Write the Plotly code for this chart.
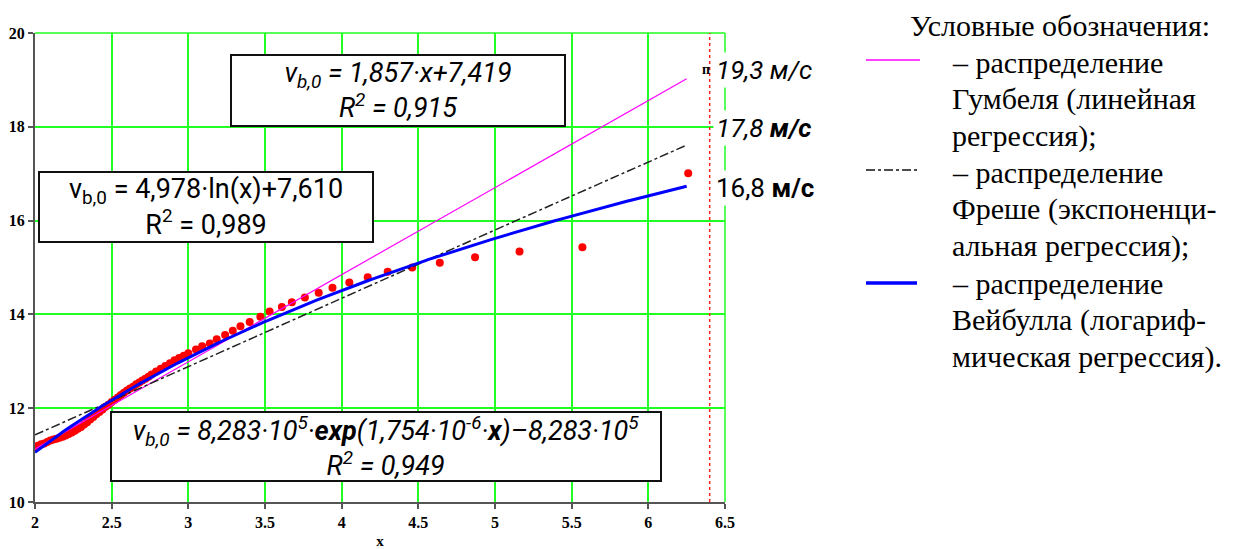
import numpy as np
import plotly.graph_objects as go

# ---------------- data ----------------
obs_x = [2.00, 2.02, 2.04, 2.06, 2.08, 2.10, 2.12, 2.14, 2.16, 2.18, 2.20, 2.22, 2.24, 2.26,
         2.28, 2.30, 2.32, 2.34, 2.36, 2.38, 2.40, 2.42, 2.44, 2.46, 2.48, 2.50, 2.52, 2.54,
         2.56, 2.58, 2.60, 2.62, 2.64, 2.66, 2.68, 2.70, 2.72, 2.74, 2.76, 2.79, 2.82, 2.85,
         2.88, 2.91, 2.94, 2.97, 3.00, 3.05, 3.09, 3.14, 3.185, 3.24, 3.29, 3.34, 3.40, 3.47,
         3.53, 3.61, 3.675, 3.76, 3.85, 3.94, 4.05, 4.17, 4.30, 4.46, 4.64, 4.87, 5.16, 5.57, 6.26]
obs_y = [11.18, 11.20, 11.23, 11.25, 11.28, 11.31, 11.33, 11.35, 11.37, 11.39, 11.42, 11.45,
         11.48, 11.52, 11.56, 11.60, 11.65, 11.70, 11.76, 11.81, 11.87, 11.92, 11.97, 12.03,
         12.08, 12.13, 12.18, 12.23, 12.28, 12.33, 12.38, 12.42, 12.46, 12.51, 12.55, 12.59,
         12.63, 12.67, 12.72, 12.78, 12.84, 12.90, 12.96, 13.02, 13.07, 13.12, 13.17, 13.25,
         13.32, 13.38, 13.47, 13.56, 13.65, 13.75, 13.84, 13.95, 14.06, 14.16, 14.26, 14.36,
         14.46, 14.57, 14.68, 14.79, 14.91, 15.00, 15.10, 15.22, 15.34, 15.43, 17.01]

# Gumbel (linear regression): v = a*x + b
gumbel_a, gumbel_b = 1.857, 7.419
# Weibull (logarithmic regression): v = a*ln(x) + b
weibull_a, weibull_b = 4.978, 7.610
# Frechet curve
frechet_x = [2.0, 3.0, 4.0, 5.0, 6.25]
frechet_y = [11.43, 12.89, 14.34, 15.80, 17.61]

fit_x_min, fit_x_max = 2.0, 6.25
limit_x = 6.40

x_ticks = [2, 2.5, 3, 3.5, 4, 4.5, 5, 5.5, 6, 6.5]
y_ticks = [10, 12, 14, 16, 18, 20]

end_labels = ["19,3 <i>м/с</i>", "17,8 <b>м/с</b>", "16,8 <b>м/с</b>"]

legend_title = "Условные обозначения:"
leg_lines = ["– распределение", "Гумбеля (линейная", "регрессия);",
             "– распределение", "Фреше (экспоненци-", "альная регрессия);",
             "– распределение", "Вейбулла (логариф-", "мическая регрессия)."]

# ---------------- figure ----------------
xs = np.linspace(fit_x_min, fit_x_max, 200)

fig = go.Figure()
fig.add_trace(go.Scatter(x=obs_x, y=obs_y, mode="markers",
                         marker=dict(color="#ff0000", size=8), showlegend=False))
fig.add_trace(go.Scatter(x=xs, y=gumbel_a * xs + gumbel_b, mode="lines",
                         line=dict(color="#ff00ff", width=1.2), showlegend=False))
fig.add_trace(go.Scatter(x=frechet_x, y=frechet_y, mode="lines",
                         line=dict(color="#222222", width=1.5, dash="dashdot"), showlegend=False))
fig.add_trace(go.Scatter(x=xs, y=weibull_a * np.log(xs) + weibull_b, mode="lines",
                         line=dict(color="#0000ff", width=3), showlegend=False))

# the page body has an 8px margin: screen px = figure px + 8
OFF = 8
W_FIG, H_FIG = 1239 - OFF, 549 - OFF
# plot area in screen pixels
L, R, T, B = 35, 725, 33, 502


def px(xp):
    return (xp - L) / (R - L)


def py(yp):
    return (B - yp) / (B - T)


SERIF = "Times New Roman, Liberation Serif, DejaVu Serif, serif"
tickfont = dict(family=SERIF, size=16, color="black", weight="bold")
fig.update_layout(
    width=W_FIG, height=H_FIG,
    margin=dict(l=L - OFF, r=W_FIG - (R - OFF), t=T - OFF, b=H_FIG - (B - OFF), autoexpand=False),
    paper_bgcolor="white", plot_bgcolor="white",
    xaxis=dict(range=[2, 6.5], tickvals=x_ticks, ticktext=[f"{v:g}" for v in x_ticks],
               automargin=False,
               showgrid=True, gridcolor="#22ff22", gridwidth=1.5, zeroline=False,
               showline=True, linecolor="#555555", linewidth=2, ticks="outside",
               ticklen=5, tickcolor="#555555", tickwidth=2, tickfont=tickfont,
               title=dict(text="x", font=dict(family=SERIF, size=15, color="black", weight="bold"),
                          standoff=6)),
    yaxis=dict(range=[10, 20], tickvals=y_ticks, ticktext=[f"{v}" for v in y_ticks],
               automargin=False,
               showgrid=True, gridcolor="#22ff22", gridwidth=1.5, zeroline=False,
               showline=True, linecolor="#555555", linewidth=2, ticks="outside",
               ticklen=5, tickcolor="#555555", tickwidth=2, tickfont=tickfont),
)

# edge grid lines (top and right)
fig.add_shape(type="line", xref="paper", yref="paper", x0=0, x1=1, y0=1, y1=1,
              line=dict(color="#22ff22", width=1.5), layer="below")
fig.add_shape(type="line", xref="paper", yref="paper", x0=1, x1=1, y0=0, y1=1,
              line=dict(color="#22ff22", width=1.5), layer="below")

# red limit line
fig.add_shape(type="line", xref="x", yref="paper", x0=limit_x, x1=limit_x, y0=0, y1=1,
              line=dict(color="#ff2020", width=1.5, dash="3px,3px"))

boxfont = dict(family="Roboto", size=27, color="black")


def box(text, left, top, w, h, italic=True):
    t = f"<i>{text}</i>" if italic else text
    fig.add_annotation(xref="paper", yref="paper", x=px(left), y=py(top),
                       xanchor="left", yanchor="top", text=t, showarrow=False,
                       width=w - 4, height=h - 4, align="center", valign="middle",
                       bgcolor="white", bordercolor="#111111", borderwidth=2, borderpad=0,
                       font=boxfont)


box("v<sub>b,0</sub> = 1,857·x+7,419<br>R<sup>2</sup> = 0,915", 230, 54, 336, 73)
box("v<sub>b,0</sub> = 4,978·ln(x)+7,610<br>R<sup>2</sup> = 0,989", 38, 171, 336, 72, italic=False)
box("v<sub>b,0</sub> = 8,283·10<sup>5</sup>·<b>exp</b>(1,754·10<sup>-6</sup>·<b>x</b>)–8,283·10<sup>5</sup>"
    "<br>R<sup>2</sup> = 0,949", 110, 411, 552, 71)

# end labels
label_y = [70, 128, 188]
label_text = ["<i>" + end_labels[0] + "</i>", "<i>" + end_labels[1] + "</i>", end_labels[2]]
for t, yy in zip(label_text, label_y):
    fig.add_annotation(xref="paper", yref="paper", x=px(713), y=py(yy), xanchor="left",
                       yanchor="middle", text=t, showarrow=False, bgcolor="white",
                       borderpad=2, font=dict(family="Roboto", size=26, color="black"))
fig.add_annotation(xref="paper", yref="paper", x=px(706), y=py(70), xanchor="center",
                   yanchor="middle", text="<b>п</b>", showarrow=False,
                   font=dict(family=SERIF, size=14, color="black"))

# legend (right side)
legfont = dict(family=SERIF, size=30, color="black")
fig.add_annotation(xref="paper", yref="paper", x=px(1060), y=py(25), xanchor="center",
                   yanchor="middle", text=legend_title, showarrow=False, font=legfont)
leg_y = [62, 99, 136, 172, 209, 246, 283, 320, 357]
for t, yy in zip(leg_lines, leg_y):
    fig.add_annotation(xref="paper", yref="paper", x=px(950), y=py(yy), xanchor="left",
                       yanchor="middle", text=t, align="left",
                       showarrow=False, font=legfont)

fig.add_shape(type="line", xref="paper", yref="paper", x0=px(866), x1=px(920), y0=py(60), y1=py(60),
              line=dict(color="#ff00ff", width=1.5))
fig.add_shape(type="line", xref="paper", yref="paper", x0=px(866), x1=px(918), y0=py(170), y1=py(170),
              line=dict(color="#111111", width=1.5, dash="dashdot"))
fig.add_shape(type="line", xref="paper", yref="paper", x0=px(866), x1=px(917), y0=py(283), y1=py(283),
              line=dict(color="#0000ff", width=3.5))

fig.write_html("out.html")
